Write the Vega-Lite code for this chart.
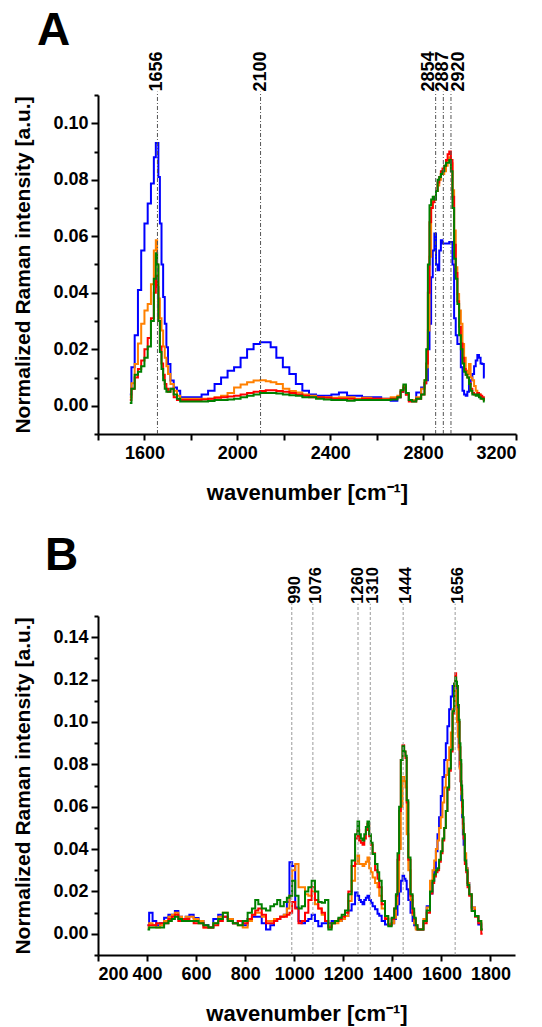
{
  "$schema": "https://vega.github.io/schema/vega-lite/v6.json",
  "background": "white",
  "autosize": {"type": "pad"},
  "padding": {"left": 12, "top": 7, "right": 4, "bottom": 2},
  "spacing": 30,
  "config": {
    "view": {"stroke": null},
    "font": "Liberation Sans",
    "axis": {
      "grid": false,
      "domainColor": "black",
      "domainWidth": 2,
      "tickColor": "black",
      "tickWidth": 2,
      "labelFont": "Liberation Sans",
      "labelFontWeight": "bold",
      "labelFontSize": 18,
      "labelColor": "black",
      "titleFont": "Liberation Sans",
      "titleFontWeight": "bold",
      "titleColor": "black"
    },
    "axisX": {"titleFontSize": 22, "labelPadding": 4, "titlePadding": 20, "tickSize": 6, "format": "d"},
    "axisY": {"titleFontSize": 21, "labelPadding": 3, "titlePadding": 19},
    "title": {"font": "Liberation Sans", "fontWeight": "bold", "fontSize": 46, "color": "black", "anchor": "start", "frame": "group"}
  },
  "datasets": {
    "specA": [
      {"wn":1537,"blue":0.004,"orange":0.003,"red":0.002,"green":0.001},
      {"wn":1551,"blue":0.0136,"orange":0.008,"red":0.006,"green":0.006},
      {"wn":1565,"blue":0.025,"orange":0.0148,"red":0.010,"green":0.011},
      {"wn":1579,"blue":0.041,"orange":0.022,"red":0.013,"green":0.012},
      {"wn":1593,"blue":0.055,"orange":0.029,"red":0.016,"green":0.014},
      {"wn":1607,"blue":0.0645,"orange":0.0337,"red":0.020,"green":0.017},
      {"wn":1621,"blue":0.0716,"orange":0.036,"red":0.024,"green":0.021},
      {"wn":1635,"blue":0.0787,"orange":0.043,"red":0.031,"green":0.030},
      {"wn":1646,"blue":0.088,"orange":0.055,"red":0.040,"green":0.045},
      {"wn":1652,"blue":0.093,"orange":0.0586,"red":0.046,"green":0.054},
      {"wn":1657,"blue":0.093,"orange":0.050,"red":0.042,"green":0.050},
      {"wn":1663,"blue":0.081,"orange":0.038,"red":0.030,"green":0.030},
      {"wn":1670,"blue":0.0645,"orange":0.031,"red":0.021,"green":0.019},
      {"wn":1677,"blue":0.050,"orange":0.0266,"red":0.015,"green":0.013},
      {"wn":1684,"blue":0.0385,"orange":0.021,"red":0.011,"green":0.009},
      {"wn":1691,"blue":0.029,"orange":0.017,"red":0.0077,"green":0.006},
      {"wn":1698,"blue":0.0207,"orange":0.014,"red":0.006,"green":0.005},
      {"wn":1705,"blue":0.0148,"orange":0.0112,"red":0.005,"green":0.005},
      {"wn":1719,"blue":0.0089,"orange":0.0077,"red":0.006,"green":0.006},
      {"wn":1733,"blue":0.0065,"orange":0.0053,"red":0.003,"green":0.004},
      {"wn":1747,"blue":0.0053,"orange":0.0035,"red":0.002,"green":0.0025},
      {"wn":1761,"blue":0.003,"orange":0.0025,"red":0.002,"green":0.0015},
      {"wn":1790,"blue":0.003,"orange":0.0025,"red":0.002,"green":0.0015},
      {"wn":1832,"blue":0.003,"orange":0.0025,"red":0.002,"green":0.0015},
      {"wn":1860,"blue":0.004,"orange":0.0025,"red":0.0022,"green":0.0015},
      {"wn":1888,"blue":0.0053,"orange":0.0025,"red":0.0025,"green":0.0017},
      {"wn":1916,"blue":0.0077,"orange":0.003,"red":0.0028,"green":0.002},
      {"wn":1944,"blue":0.010,"orange":0.0035,"red":0.003,"green":0.002},
      {"wn":1972,"blue":0.0124,"orange":0.0045,"red":0.0033,"green":0.0022},
      {"wn":2000,"blue":0.0136,"orange":0.0065,"red":0.0035,"green":0.0025},
      {"wn":2028,"blue":0.017,"orange":0.0075,"red":0.004,"green":0.003},
      {"wn":2056,"blue":0.020,"orange":0.0083,"red":0.0045,"green":0.0035},
      {"wn":2084,"blue":0.0219,"orange":0.0089,"red":0.005,"green":0.004},
      {"wn":2112,"blue":0.0225,"orange":0.009,"red":0.0052,"green":0.0045},
      {"wn":2133,"blue":0.0225,"orange":0.0087,"red":0.0055,"green":0.0045},
      {"wn":2154,"blue":0.0207,"orange":0.0083,"red":0.0055,"green":0.0045},
      {"wn":2182,"blue":0.017,"orange":0.0077,"red":0.0052,"green":0.0043},
      {"wn":2210,"blue":0.0136,"orange":0.006,"red":0.005,"green":0.004},
      {"wn":2238,"blue":0.0112,"orange":0.0052,"red":0.0045,"green":0.0037},
      {"wn":2266,"blue":0.0077,"orange":0.0047,"red":0.004,"green":0.0035},
      {"wn":2294,"blue":0.0053,"orange":0.004,"red":0.0035,"green":0.003},
      {"wn":2323,"blue":0.004,"orange":0.0035,"red":0.003,"green":0.003},
      {"wn":2355,"blue":0.0035,"orange":0.003,"red":0.003,"green":0.0025},
      {"wn":2390,"blue":0.0035,"orange":0.003,"red":0.0028,"green":0.0022},
      {"wn":2420,"blue":0.004,"orange":0.0028,"red":0.0025,"green":0.002},
      {"wn":2455,"blue":0.0047,"orange":0.003,"red":0.0025,"green":0.002},
      {"wn":2490,"blue":0.0035,"orange":0.003,"red":0.0025,"green":0.0018},
      {"wn":2520,"blue":0.0035,"orange":0.0025,"red":0.0022,"green":0.002},
      {"wn":2554,"blue":0.003,"orange":0.0028,"red":0.0025,"green":0.002},
      {"wn":2600,"blue":0.003,"orange":0.0025,"red":0.0025,"green":0.002},
      {"wn":2639,"blue":0.0025,"orange":0.0025,"red":0.0022,"green":0.002},
      {"wn":2682,"blue":0.0018,"orange":0.003,"red":0.0025,"green":0.0022},
      {"wn":2696,"blue":0.003,"orange":0.0035,"red":0.003,"green":0.003},
      {"wn":2710,"blue":0.005,"orange":0.0055,"red":0.005,"green":0.0055},
      {"wn":2720,"blue":0.006,"orange":0.007,"red":0.0065,"green":0.0075},
      {"wn":2732,"blue":0.004,"orange":0.004,"red":0.004,"green":0.0045},
      {"wn":2745,"blue":0.002,"orange":0.002,"red":0.0015,"green":0.002},
      {"wn":2760,"blue":0.002,"orange":0.002,"red":0.0015,"green":0.0015},
      {"wn":2781,"blue":0.0047,"orange":0.003,"red":0.0025,"green":0.0025},
      {"wn":2802,"blue":0.0065,"orange":0.006,"red":0.004,"green":0.004},
      {"wn":2810,"blue":0.008,"orange":0.009,"red":0.008,"green":0.009},
      {"wn":2817,"blue":0.009,"orange":0.0136,"red":0.015,"green":0.020},
      {"wn":2824,"blue":0.020,"orange":0.0266,"red":0.040,"green":0.050},
      {"wn":2831,"blue":0.029,"orange":0.0527,"red":0.065,"green":0.071},
      {"wn":2838,"blue":0.0455,"orange":0.070,"red":0.070,"green":0.073},
      {"wn":2845,"blue":0.055,"orange":0.073,"red":0.072,"green":0.074},
      {"wn":2852,"blue":0.061,"orange":0.074,"red":0.073,"green":0.073},
      {"wn":2859,"blue":0.050,"orange":0.076,"red":0.076,"green":0.076},
      {"wn":2866,"blue":0.048,"orange":0.078,"red":0.079,"green":0.080},
      {"wn":2873,"blue":0.055,"orange":0.080,"red":0.081,"green":0.081},
      {"wn":2880,"blue":0.0586,"orange":0.082,"red":0.083,"green":0.082},
      {"wn":2887,"blue":0.0574,"orange":0.082,"red":0.084,"green":0.083},
      {"wn":2895,"blue":0.0574,"orange":0.083,"red":0.085,"green":0.085},
      {"wn":2902,"blue":0.0574,"orange":0.085,"red":0.087,"green":0.086},
      {"wn":2909,"blue":0.0574,"orange":0.087,"red":0.089,"green":0.086},
      {"wn":2916,"blue":0.058,"orange":0.088,"red":0.090,"green":0.087},
      {"wn":2923,"blue":0.058,"orange":0.0858,"red":0.087,"green":0.083},
      {"wn":2930,"blue":0.050,"orange":0.0763,"red":0.074,"green":0.070},
      {"wn":2937,"blue":0.031,"orange":0.062,"red":0.057,"green":0.052},
      {"wn":2944,"blue":0.025,"orange":0.049,"red":0.047,"green":0.045},
      {"wn":2951,"blue":0.0219,"orange":0.0396,"red":0.037,"green":0.036},
      {"wn":2959,"blue":0.0219,"orange":0.0337,"red":0.028,"green":0.025},
      {"wn":2966,"blue":0.0136,"orange":0.029,"red":0.022,"green":0.020},
      {"wn":2973,"blue":0.0053,"orange":0.0219,"red":0.017,"green":0.015},
      {"wn":2980,"blue":0.004,"orange":0.017,"red":0.013,"green":0.012},
      {"wn":2987,"blue":0.0035,"orange":0.0124,"red":0.011,"green":0.011},
      {"wn":2994,"blue":0.005,"orange":0.0112,"red":0.010,"green":0.010},
      {"wn":3001,"blue":0.0077,"orange":0.0148,"red":0.008,"green":0.0077},
      {"wn":3008,"blue":0.009,"orange":0.010,"red":0.006,"green":0.0053},
      {"wn":3016,"blue":0.0112,"orange":0.009,"red":0.0045,"green":0.004},
      {"wn":3023,"blue":0.014,"orange":0.007,"red":0.004,"green":0.004},
      {"wn":3030,"blue":0.016,"orange":0.0053,"red":0.004,"green":0.0035},
      {"wn":3037,"blue":0.018,"orange":0.0045,"red":0.0045,"green":0.004},
      {"wn":3044,"blue":0.017,"orange":0.004,"red":0.004,"green":0.003},
      {"wn":3051,"blue":0.015,"orange":0.003,"red":0.0035,"green":0.0025},
      {"wn":3058,"blue":0.0148,"orange":0.0024,"red":0.003,"green":0.0025},
      {"wn":3065,"blue":0.010,"orange":0.002,"red":0.002,"green":0.0015}
    ],
    "refA": [
      {"wn":1656,"label":"1656"},
      {"wn":2100,"label":"2100"},
      {"wn":2854,"label":"2854"},
      {"wn":2887,"label":"2887"},
      {"wn":2920,"label":"2920"}
    ],
    "specB": [
      {"wn":402,"blue":0.004,"orange":0.003,"red":0.004,"green":0.002},
      {"wn":415,"blue":0.010,"orange":0.005,"red":0.004,"green":0.003},
      {"wn":430,"blue":0.006,"orange":0.004,"red":0.004,"green":0.003},
      {"wn":445,"blue":0.004,"orange":0.003,"red":0.005,"green":0.003},
      {"wn":460,"blue":0.005,"orange":0.004,"red":0.005,"green":0.003},
      {"wn":479,"blue":0.0076,"orange":0.006,"red":0.005,"green":0.005},
      {"wn":495,"blue":0.009,"orange":0.008,"red":0.007,"green":0.006},
      {"wn":507,"blue":0.009,"orange":0.009,"red":0.008,"green":0.007},
      {"wn":520,"blue":0.0108,"orange":0.010,"red":0.009,"green":0.008},
      {"wn":535,"blue":0.008,"orange":0.008,"red":0.006,"green":0.007},
      {"wn":550,"blue":0.007,"orange":0.007,"red":0.007,"green":0.006},
      {"wn":565,"blue":0.008,"orange":0.008,"red":0.007,"green":0.006},
      {"wn":580,"blue":0.009,"orange":0.008,"red":0.006,"green":0.006},
      {"wn":600,"blue":0.0075,"orange":0.007,"red":0.005,"green":0.006},
      {"wn":620,"blue":0.006,"orange":0.006,"red":0.005,"green":0.005},
      {"wn":640,"blue":0.004,"orange":0.003,"red":0.003,"green":0.004},
      {"wn":660,"blue":0.003,"orange":0.003,"red":0.003,"green":0.003},
      {"wn":680,"blue":0.007,"orange":0.005,"red":0.004,"green":0.005},
      {"wn":700,"blue":0.009,"orange":0.008,"red":0.006,"green":0.007},
      {"wn":718,"blue":0.008,"orange":0.010,"red":0.008,"green":0.010},
      {"wn":740,"blue":0.007,"orange":0.007,"red":0.006,"green":0.006},
      {"wn":760,"blue":0.005,"orange":0.005,"red":0.005,"green":0.005},
      {"wn":780,"blue":0.006,"orange":0.004,"red":0.006,"green":0.004},
      {"wn":800,"blue":0.004,"orange":0.003,"red":0.005,"green":0.006},
      {"wn":820,"blue":0.007,"orange":0.006,"red":0.007,"green":0.010},
      {"wn":835,"blue":0.008,"orange":0.009,"red":0.009,"green":0.012},
      {"wn":847,"blue":0.008,"orange":0.010,"red":0.011,"green":0.016},
      {"wn":860,"blue":0.008,"orange":0.010,"red":0.012,"green":0.014},
      {"wn":875,"blue":0.005,"orange":0.008,"red":0.009,"green":0.012},
      {"wn":895,"blue":0.002,"orange":0.006,"red":0.005,"green":0.011},
      {"wn":910,"blue":0.004,"orange":0.006,"red":0.005,"green":0.013},
      {"wn":925,"blue":0.006,"orange":0.007,"red":0.006,"green":0.014},
      {"wn":936,"blue":0.007,"orange":0.007,"red":0.007,"green":0.016},
      {"wn":950,"blue":0.008,"orange":0.008,"red":0.008,"green":0.013},
      {"wn":965,"blue":0.009,"orange":0.009,"red":0.008,"green":0.015},
      {"wn":975,"blue":0.015,"orange":0.012,"red":0.009,"green":0.017},
      {"wn":986,"blue":0.0338,"orange":0.018,"red":0.010,"green":0.018},
      {"wn":997,"blue":0.032,"orange":0.030,"red":0.015,"green":0.025},
      {"wn":1011,"blue":0.0124,"orange":0.033,"red":0.012,"green":0.018},
      {"wn":1024,"blue":0.006,"orange":0.022,"red":0.005,"green":0.012},
      {"wn":1037,"blue":0.005,"orange":0.022,"red":0.006,"green":0.013},
      {"wn":1051,"blue":0.006,"orange":0.0187,"red":0.010,"green":0.020},
      {"wn":1064,"blue":0.007,"orange":0.018,"red":0.016,"green":0.022},
      {"wn":1078,"blue":0.009,"orange":0.020,"red":0.022,"green":0.025},
      {"wn":1091,"blue":0.006,"orange":0.014,"red":0.016,"green":0.020},
      {"wn":1105,"blue":0.0036,"orange":0.012,"red":0.012,"green":0.015},
      {"wn":1119,"blue":0.005,"orange":0.009,"red":0.010,"green":0.0147},
      {"wn":1132,"blue":0.005,"orange":0.006,"red":0.006,"green":0.016},
      {"wn":1146,"blue":0.005,"orange":0.0036,"red":0.003,"green":0.002},
      {"wn":1159,"blue":0.006,"orange":0.005,"red":0.005,"green":0.005},
      {"wn":1173,"blue":0.006,"orange":0.005,"red":0.006,"green":0.006},
      {"wn":1187,"blue":0.006,"orange":0.006,"red":0.007,"green":0.0076},
      {"wn":1200,"blue":0.007,"orange":0.007,"red":0.008,"green":0.009},
      {"wn":1214,"blue":0.0084,"orange":0.0084,"red":0.010,"green":0.011},
      {"wn":1227,"blue":0.011,"orange":0.0155,"red":0.020,"green":0.0187},
      {"wn":1241,"blue":0.014,"orange":0.025,"red":0.032,"green":0.0346},
      {"wn":1255,"blue":0.0195,"orange":0.033,"red":0.045,"green":0.047},
      {"wn":1261,"blue":0.018,"orange":0.037,"red":0.049,"green":0.053},
      {"wn":1268,"blue":0.016,"orange":0.033,"red":0.044,"green":0.047},
      {"wn":1275,"blue":0.015,"orange":0.033,"red":0.043,"green":0.045},
      {"wn":1282,"blue":0.014,"orange":0.032,"red":0.042,"green":0.044},
      {"wn":1289,"blue":0.016,"orange":0.033,"red":0.045,"green":0.047},
      {"wn":1295,"blue":0.017,"orange":0.034,"red":0.049,"green":0.0504},
      {"wn":1302,"blue":0.018,"orange":0.036,"red":0.052,"green":0.053},
      {"wn":1309,"blue":0.016,"orange":0.031,"red":0.046,"green":0.047},
      {"wn":1316,"blue":0.0147,"orange":0.029,"red":0.042,"green":0.043},
      {"wn":1323,"blue":0.013,"orange":0.0266,"red":0.038,"green":0.0377},
      {"wn":1336,"blue":0.0116,"orange":0.024,"red":0.030,"green":0.033},
      {"wn":1343,"blue":0.0095,"orange":0.022,"red":0.026,"green":0.029},
      {"wn":1350,"blue":0.0085,"orange":0.018,"red":0.022,"green":0.025},
      {"wn":1363,"blue":0.006,"orange":0.012,"red":0.014,"green":0.0155},
      {"wn":1377,"blue":0.0044,"orange":0.0076,"red":0.007,"green":0.0084},
      {"wn":1390,"blue":0.0045,"orange":0.0045,"red":0.004,"green":0.0036},
      {"wn":1404,"blue":0.005,"orange":0.005,"red":0.007,"green":0.0076},
      {"wn":1411,"blue":0.007,"orange":0.0076,"red":0.012,"green":0.012},
      {"wn":1418,"blue":0.009,"orange":0.014,"red":0.018,"green":0.0187},
      {"wn":1424,"blue":0.014,"orange":0.020,"red":0.035,"green":0.038},
      {"wn":1431,"blue":0.020,"orange":0.040,"red":0.058,"green":0.060},
      {"wn":1438,"blue":0.025,"orange":0.060,"red":0.082,"green":0.082},
      {"wn":1445,"blue":0.0274,"orange":0.074,"red":0.089,"green":0.0885},
      {"wn":1451,"blue":0.026,"orange":0.072,"red":0.086,"green":0.086},
      {"wn":1456,"blue":0.025,"orange":0.069,"red":0.083,"green":0.084},
      {"wn":1461,"blue":0.021,"orange":0.047,"red":0.062,"green":0.063},
      {"wn":1469,"blue":0.016,"orange":0.030,"red":0.035,"green":0.036},
      {"wn":1479,"blue":0.010,"orange":0.016,"red":0.018,"green":0.0187},
      {"wn":1486,"blue":0.006,"orange":0.009,"red":0.010,"green":0.012},
      {"wn":1492,"blue":0.004,"orange":0.005,"red":0.007,"green":0.0076},
      {"wn":1499,"blue":0.0029,"orange":0.002,"red":0.004,"green":0.004},
      {"wn":1506,"blue":0.002,"orange":0.002,"red":0.002,"green":0.002},
      {"wn":1520,"blue":0.002,"orange":0.002,"red":0.002,"green":0.002},
      {"wn":1533,"blue":0.006,"orange":0.007,"red":0.005,"green":0.006},
      {"wn":1547,"blue":0.013,"orange":0.0124,"red":0.010,"green":0.011},
      {"wn":1560,"blue":0.019,"orange":0.025,"red":0.019,"green":0.020},
      {"wn":1567,"blue":0.025,"orange":0.030,"red":0.024,"green":0.025},
      {"wn":1574,"blue":0.031,"orange":0.0346,"red":0.027,"green":0.028},
      {"wn":1581,"blue":0.039,"orange":0.040,"red":0.029,"green":0.030},
      {"wn":1587,"blue":0.047,"orange":0.044,"red":0.030,"green":0.031},
      {"wn":1594,"blue":0.055,"orange":0.050,"red":0.034,"green":0.035},
      {"wn":1601,"blue":0.065,"orange":0.055,"red":0.038,"green":0.039},
      {"wn":1608,"blue":0.074,"orange":0.062,"red":0.044,"green":0.045},
      {"wn":1615,"blue":0.082,"orange":0.069,"red":0.050,"green":0.050},
      {"wn":1621,"blue":0.090,"orange":0.075,"red":0.058,"green":0.058},
      {"wn":1628,"blue":0.098,"orange":0.082,"red":0.068,"green":0.069},
      {"wn":1635,"blue":0.106,"orange":0.088,"red":0.077,"green":0.078},
      {"wn":1642,"blue":0.112,"orange":0.095,"red":0.086,"green":0.087},
      {"wn":1649,"blue":0.117,"orange":0.106,"red":0.104,"green":0.105},
      {"wn":1655,"blue":0.118,"orange":0.117,"red":0.118,"green":0.118},
      {"wn":1658,"blue":0.117,"orange":0.115,"red":0.123,"green":0.121},
      {"wn":1662,"blue":0.114,"orange":0.106,"red":0.119,"green":0.119},
      {"wn":1665,"blue":0.108,"orange":0.100,"red":0.117,"green":0.117},
      {"wn":1669,"blue":0.095,"orange":0.093,"red":0.108,"green":0.108},
      {"wn":1672,"blue":0.088,"orange":0.087,"red":0.100,"green":0.101},
      {"wn":1676,"blue":0.079,"orange":0.078,"red":0.088,"green":0.090},
      {"wn":1679,"blue":0.072,"orange":0.072,"red":0.080,"green":0.082},
      {"wn":1683,"blue":0.063,"orange":0.066,"red":0.068,"green":0.070},
      {"wn":1686,"blue":0.055,"orange":0.057,"red":0.060,"green":0.063},
      {"wn":1689,"blue":0.047,"orange":0.050,"red":0.052,"green":0.055},
      {"wn":1692,"blue":0.042,"orange":0.047,"red":0.045,"green":0.047},
      {"wn":1699,"blue":0.035,"orange":0.038,"red":0.033,"green":0.0346},
      {"wn":1703,"blue":0.031,"orange":0.031,"red":0.029,"green":0.030},
      {"wn":1710,"blue":0.024,"orange":0.024,"red":0.022,"green":0.023},
      {"wn":1717,"blue":0.0187,"orange":0.0187,"red":0.018,"green":0.0187},
      {"wn":1730,"blue":0.0124,"orange":0.0124,"red":0.011,"green":0.0108},
      {"wn":1744,"blue":0.0084,"orange":0.0084,"red":0.008,"green":0.0084},
      {"wn":1757,"blue":0.0044,"orange":0.006,"red":0.005,"green":0.006},
      {"wn":1768,"blue":0.002,"orange":0.002,"red":0.0,"green":0.002}
    ],
    "refB": [
      {"wn":990,"label":"990"},
      {"wn":1076,"label":"1076"},
      {"wn":1260,"label":"1260"},
      {"wn":1310,"label":"1310"},
      {"wn":1444,"label":"1444"},
      {"wn":1656,"label":"1656"}
    ]
  },
  "vconcat": [
    {
      "width": 418,
      "height": 339,
      "title": {"text": "A", "dx": -61, "offset": -3},
      "resolve": {"axis": {"y": "independent"}},
      "layer": [
        {
          "data": {"name": "specA"},
          "transform": [{"fold": ["blue", "orange", "red", "green"], "as": ["series", "value"]}],
          "mark": {"type": "line", "interpolate": "step", "strokeWidth": 2},
          "encoding": {
            "x": {
              "field": "wn", "type": "quantitative",
              "scale": {"domain": [1400, 3200], "nice": false, "zero": false},
              "axis": {
                "title": "wavenumber [cm⁻¹]",
                "values": [1400,1600,1800,2000,2200,2400,2600,2800,3000,3200],
                "labelExpr": "datum.value % 400 == 0 ? datum.label : ''"
              }
            },
            "y": {
              "field": "value", "type": "quantitative",
              "scale": {"domain": [-0.01, 0.11], "nice": false, "zero": false},
              "axis": {
                "orient": "left",
                "title": "Normalized Raman intensity [a.u.]",
                "values": [-0.01,0,0.01,0.02,0.03,0.04,0.05,0.06,0.07,0.08,0.09,0.10,0.11],
                "labelExpr": "(round(datum.value*100) % 2 == 0 && datum.value > -0.005) ? format(datum.value, '.2f') : ''",
                "tickSize": {"condition": {"test": "round(datum.value*100) % 2 == 0", "value": 7}, "value": 4}
              }
            },
            "color": {"field": "series", "type": "nominal", "scale": {"domain": ["blue", "orange", "red", "green"], "range": ["#0000ff", "#ff8000", "#ff0000", "#008000"]}, "legend": null}
          }
        },
        {
          "data": {"name": "refA"},
          "mark": {"type": "rule", "color": "#555555", "strokeWidth": 1, "strokeDash": [4, 2, 1, 2], "clip": false},
          "encoding": {
            "x": {"field": "wn", "type": "quantitative"},
            "y": {"datum": -0.01, "type": "quantitative", "axis": null},
            "y2": {"datum": 0.1112}
          }
        },
        {
          "data": {"name": "refA"},
          "transform": [{"filter": "datum.wn != 2854 && datum.wn != 2920"}],
          "mark": {"type": "text", "angle": 270, "align": "left", "baseline": "middle", "fontSize": 18, "fontWeight": "bold", "color": "black", "clip": false},
          "encoding": {"x": {"field": "wn", "type": "quantitative"}, "y": {"datum": 0.1112, "type": "quantitative", "axis": null}, "text": {"field": "label"}}
        },
        {
          "data": {"name": "refA"},
          "transform": [{"filter": "datum.wn == 2854"}],
          "mark": {"type": "text", "angle": 270, "align": "left", "baseline": "middle", "fontSize": 18, "fontWeight": "bold", "color": "black", "dy": -7, "clip": false},
          "encoding": {"x": {"field": "wn", "type": "quantitative"}, "y": {"datum": 0.1112, "type": "quantitative", "axis": null}, "text": {"field": "label"}}
        },
        {
          "data": {"name": "refA"},
          "transform": [{"filter": "datum.wn == 2920"}],
          "mark": {"type": "text", "angle": 270, "align": "left", "baseline": "middle", "fontSize": 18, "fontWeight": "bold", "color": "black", "dy": 8, "clip": false},
          "encoding": {"x": {"field": "wn", "type": "quantitative"}, "y": {"datum": 0.1112, "type": "quantitative", "axis": null}, "text": {"field": "label"}}
        }
      ]
    },
    {
      "width": 417,
      "height": 339,
      "title": {"text": "B", "dx": -53, "offset": -13},
      "resolve": {"axis": {"y": "independent"}},
      "layer": [
        {
          "data": {"name": "specB"},
          "transform": [{"fold": ["blue", "orange", "red", "green"], "as": ["series", "value"]}],
          "mark": {"type": "line", "interpolate": "step", "strokeWidth": 2},
          "encoding": {
            "x": {
              "field": "wn", "type": "quantitative",
              "scale": {"domain": [200, 1900], "nice": false, "zero": false},
              "axis": {
                "title": "wavenumber [cm⁻¹]",
                "values": [200,300,400,500,600,700,800,900,1000,1100,1200,1300,1400,1500,1600,1700,1800,1900],
                "labelExpr": "(datum.value % 200 == 0 && datum.value < 1900) ? datum.label : ''"
              }
            },
            "y": {
              "field": "value", "type": "quantitative",
              "scale": {"domain": [-0.01, 0.15], "nice": false, "zero": false},
              "axis": {
                "orient": "left",
                "title": "Normalized Raman intensity [a.u.]",
                "values": [-0.01,0,0.01,0.02,0.03,0.04,0.05,0.06,0.07,0.08,0.09,0.10,0.11,0.12,0.13,0.14,0.15],
                "labelExpr": "(round(datum.value*100) % 2 == 0 && datum.value > -0.005 && datum.value < 0.145) ? format(datum.value, '.2f') : ''",
                "tickSize": {"condition": {"test": "round(datum.value*100) % 2 == 0", "value": 7}, "value": 4}
              }
            },
            "color": {"field": "series", "type": "nominal", "scale": {"domain": ["blue", "orange", "red", "green"], "range": ["#0000ff", "#ff8000", "#ff0000", "#008000"]}, "legend": null}
          }
        },
        {
          "data": {"name": "refB"},
          "mark": {"type": "rule", "color": "#9a9a9a", "strokeWidth": 1, "strokeDash": [3, 2], "clip": false},
          "encoding": {
            "x": {"field": "wn", "type": "quantitative"},
            "y": {"datum": -0.01, "type": "quantitative", "axis": null},
            "y2": {"datum": 0.1558}
          }
        },
        {
          "data": {"name": "refB"},
          "transform": [{"filter": "datum.wn != 1260"}],
          "mark": {"type": "text", "angle": 270, "align": "left", "baseline": "middle", "fontSize": 16.5, "fontWeight": "bold", "color": "black", "dy": 3, "clip": false},
          "encoding": {"x": {"field": "wn", "type": "quantitative"}, "y": {"datum": 0.1558, "type": "quantitative", "axis": null}, "text": {"field": "label"}}
        },
        {
          "data": {"name": "refB"},
          "transform": [{"filter": "datum.wn == 1260"}],
          "mark": {"type": "text", "angle": 270, "align": "left", "baseline": "middle", "fontSize": 16.5, "fontWeight": "bold", "color": "black", "dy": 0, "clip": false},
          "encoding": {"x": {"field": "wn", "type": "quantitative"}, "y": {"datum": 0.1558, "type": "quantitative", "axis": null}, "text": {"field": "label"}}
        }
      ]
    }
  ]
}
